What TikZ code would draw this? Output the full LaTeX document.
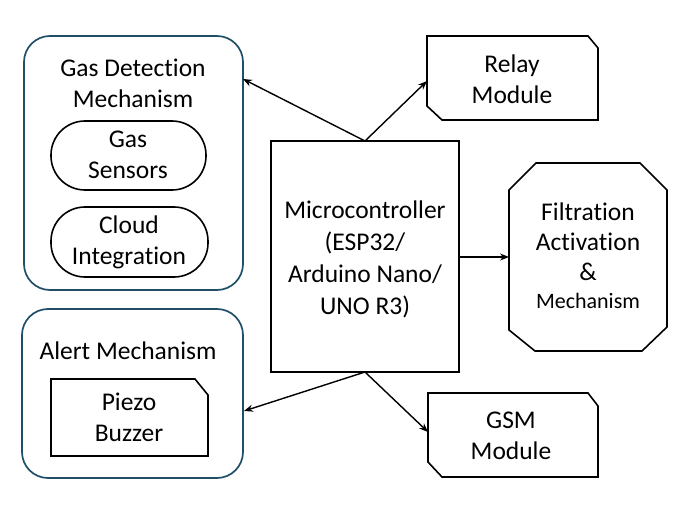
\documentclass[tikz,border=0pt]{standalone}
\usepackage{fontspec}
\setmainfont[RawFeature={-liga;-clig;-calt;-rlig;-dlig}]{Carlito}
\usetikzlibrary{arrows.meta}
\definecolor{frame}{HTML}{1F4E66}
\begin{document}
\begin{tikzpicture}[x=1pt,y=-1pt,
  container/.style={draw=frame,line width=1.7pt,rounded corners=26pt},
  pill/.style={draw=black,line width=1.6pt,rounded corners=34pt},
  blk/.style={draw=black,line width=1.6pt},
  lbl/.style={font=\fontsize{25.5}{31}\selectfont,align=center,inner sep=0pt},
  conn/.style={line width=1.4pt,-{Stealth[length=9pt,width=7pt]}}]
\useasboundingbox (0,0) rectangle (689,519);
% containers
\draw[container] (24,36) rectangle (243,290);
\coordinate (gdR) at (243,79);
\node[lbl] (gdt) at (133,83) {Gas Detection\\Mechanism};
\draw[pill] (51,121) rectangle (206,190);
\node[lbl] (gs) at (128,155) {Gas\\Sensors};
\draw[pill] (51,207) rectangle (208,277);
\node[lbl] (ci) at (129,242) {Cloud\\Integration};
\draw[container] (22,309) rectangle (243,478);
\coordinate (amR) at (244,411);
\node[lbl] (amt) at (128,351) {Alert Mechanism};
\draw[blk] (51,379) -- (195,379) -- (208,395) -- (208,456) -- (51,456) -- cycle;
\node[lbl] (pb) at (129,417) {Piezo\\Buzzer};
% microcontroller
\draw[blk] (271,141) rectangle (459,372);
\coordinate (mT) at (365,141);
\coordinate (mB) at (365,372);
\coordinate (mR) at (459,257);
\node[lbl,font=\fontsize{25.5}{32}\selectfont] (mc) at (365,259) {Microcontroller\\(ESP32/\\Arduino Nano/\\UNO R3)};
% relay
\draw[blk] (427,36) -- (588,36) -- (598,48) -- (598,120) -- (442,120) -- (427,106) -- cycle;
\coordinate (rL) at (427,81);
\node[lbl] (rm) at (512,79) {Relay\\Module};
% filtration
\draw[blk] (536,163) -- (640,163) -- (667,190) -- (667,327) -- (642,351) -- (535,351) -- (509,330) -- (509,190) -- cycle;
\coordinate (fL) at (509,257);
\node[lbl,font=\fontsize{25.5}{30}\selectfont] (fa) at (588,242) {Filtration\\Activation\\\&};
\node[lbl,font=\fontsize{22}{26}\selectfont] (fm) at (588,301) {Mechanism};
% gsm
\draw[blk] (428,393) -- (588,393) -- (598,406) -- (598,477) -- (442,477) -- (428,462) -- cycle;
\coordinate (gL) at (428,432);
\node[lbl] (gsm) at (511,436) {GSM\\Module};
% connectors
\draw[conn] (mT) -- (gdR);
\draw[conn] (mT) -- (rL);
\draw[conn] (mR) -- (fL);
\draw[conn] (mB) -- (amR);
\draw[conn] (mB) -- (gL);
\end{tikzpicture}
\end{document}
